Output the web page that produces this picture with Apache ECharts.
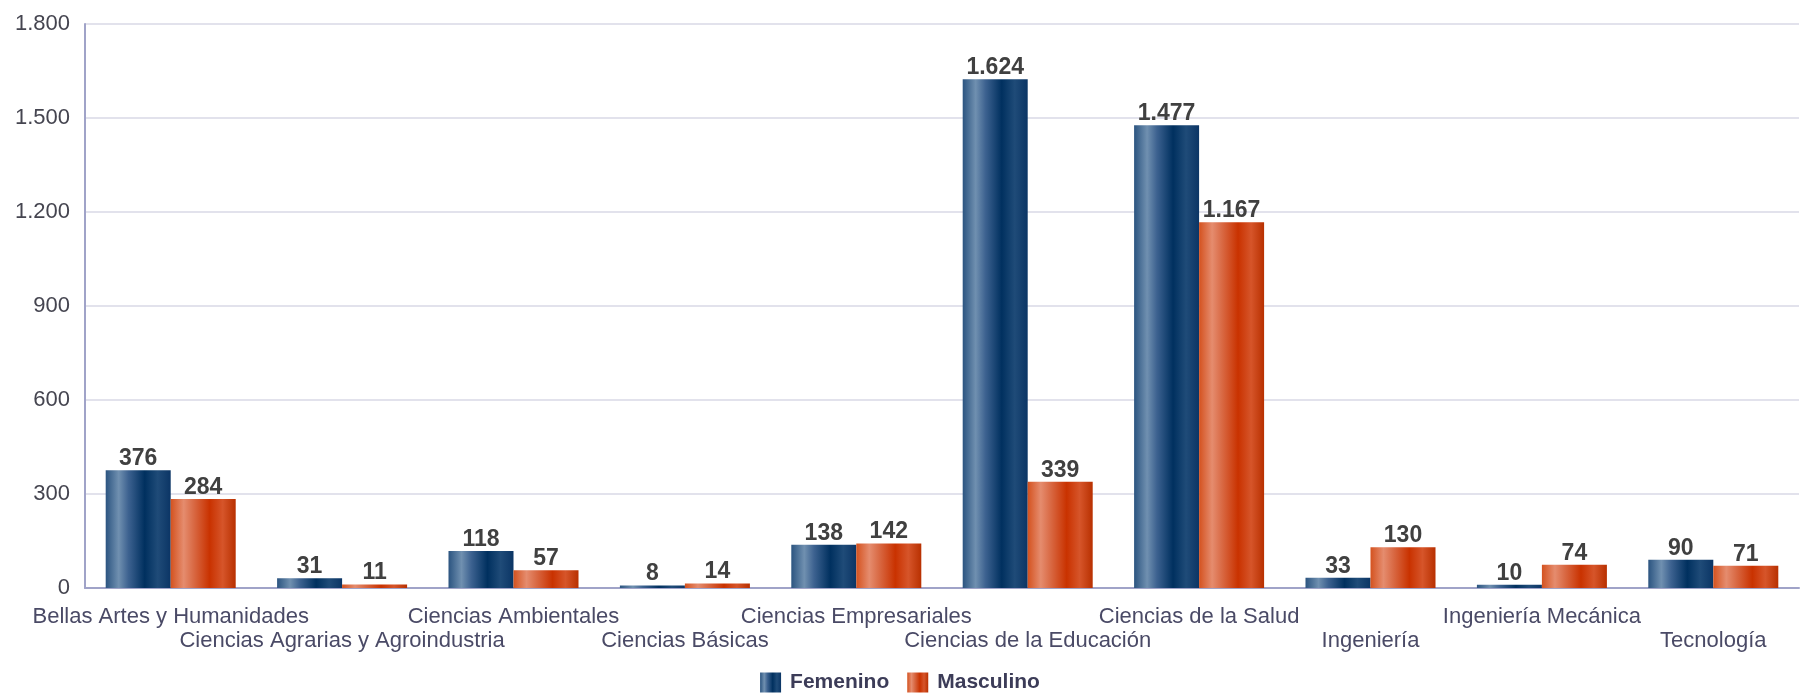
<!DOCTYPE html>
<html>
<head>
<meta charset="utf-8">
<script src="https://cdn.jsdelivr.net/npm/echarts@6/dist/echarts.min.js"></script>
<style>
  html, body { margin: 0; padding: 0; background: #fff; }
  #chart { width: 1800px; height: 694px; }
</style>
</head>
<body>
<div id="chart"></div>
<script>
// areas of knowledge, two genders
var categories = ['Bellas Artes y Humanidades', 'Ciencias Agrarias y Agroindustria', 'Ciencias Ambientales',
  'Ciencias Básicas', 'Ciencias Empresariales', 'Ciencias de la Educación', 'Ciencias de la Salud',
  'Ingeniería', 'Ingeniería Mecánica', 'Tecnología'];
var femenino = [376, 31, 118, 8, 138, 1624, 1477, 33, 10, 90];
var masculino = [284, 11, 57, 14, 142, 339, 1167, 130, 74, 71];
var yTicks = [0, 300, 600, 900, 1200, 1500, 1800];

var FONT = '"Liberation Sans", Arial, sans-serif';

function fmt(v) {
  // thousands separator with a dot
  return String(v).replace(/\B(?=(\d{3})+(?!\d))/g, '.');
}

function barGrad(stops) {
  return new echarts.graphic.LinearGradient(0, 0, 1, 0, stops.map(function (s) {
    return {offset: s[0], color: s[1]};
  }));
}

var blue = barGrad([[0, '#2b5480'], [0.2, '#7090b0'], [0.35, '#3d6290'], [0.6, '#00305f'], [0.8, '#1f4b78'], [1, '#0b3565']]);
var red = barGrad([[0, '#d4521f'], [0.2, '#e58c6e'], [0.35, '#d96a45'], [0.6, '#c93200'], [0.8, '#d6552a'], [1, '#b83000']]);

var valueLabel = {
  show: true,
  position: 'top',
  distance: 0,
  fontFamily: FONT,
  fontWeight: 'bold',
  fontSize: 23,
  color: '#404040',
  formatter: function (p) { return fmt(p.value); }
};

var myChart = echarts.init(document.getElementById('chart'));
myChart.setOption({
  backgroundColor: '#ffffff',
  animation: false,
  legend: {
    bottom: -4,
    left: 'center',
    icon: 'rect',
    itemWidth: 21,
    itemHeight: 20,
    itemGap: 18,
    data: ['Femenino', 'Masculino'],
    textStyle: {fontFamily: FONT, fontSize: 21, fontWeight: 'bold', color: '#3c3c58', padding: [0, 0, 0, 4]}
  },
  grid: {left: 85, right: 1, top: 24, bottom: 106},
  xAxis: {
    type: 'category',
    data: categories,
    axisTick: {show: false},
    axisLine: {lineStyle: {color: '#a0a3c8', width: 2}},
    axisLabel: {
      interval: 0,
      margin: 17,
      fontFamily: FONT,
      fontSize: 22,
      lineHeight: 24,
      color: '#4a4a66',
      formatter: function (v, i) { return i % 2 ? '\n' + v : v; }
    }
  },
  yAxis: {
    type: 'value',
    min: 0,
    max: yTicks[yTicks.length - 1],
    interval: yTicks[1] - yTicks[0],
    axisLine: {show: true, lineStyle: {color: '#a0a3c8', width: 2}},
    axisTick: {show: false},
    splitLine: {lineStyle: {color: '#e2e2ec', width: 2}},
    axisLabel: {
      margin: 15,
      fontFamily: FONT,
      fontSize: 22,
      color: '#454550',
      formatter: function (v) { return fmt(v); }
    }
  },
  series: [
    {
      name: 'Femenino',
      type: 'bar',
      data: femenino,
      barWidth: 65,
      barGap: '0%',
      itemStyle: {color: blue},
      label: valueLabel
    },
    {
      name: 'Masculino',
      type: 'bar',
      data: masculino,
      barWidth: 65,
      itemStyle: {color: red},
      label: valueLabel
    }
  ]
});
</script>
</body>
</html>
